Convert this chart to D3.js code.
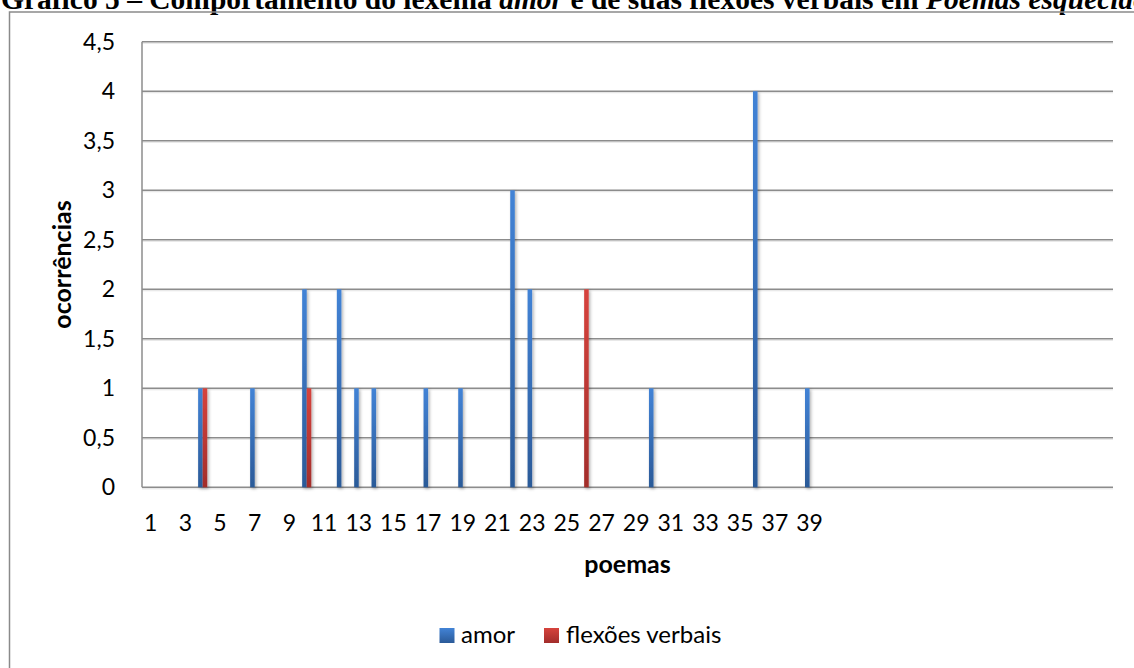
<!DOCTYPE html>
<html>
<head>
<meta charset="utf-8">
<script src="https://cdn.jsdelivr.net/npm/d3@7"></script>
<style>
  html, body { margin: 0; padding: 0; background: #fff; overflow: hidden; }
  svg { display: block; }
</style>
</head>
<body>
<svg id="chart" width="1134" height="668"></svg>
<script>
// Poem numbers on the category axis
const categories = [
  "1","2","3","4","5","6","7","8","9","10","11","12","13","14","15","16","17","18","19","20",
  "21","22","23","24","25","26","27","28","29","30","31","32","33","34","35","36","37","38","39","40",
  "41","42","43","44","45","46","47","48","49","50","51","52","53","54","55","56"
];
// Labels printed under the axis
const xTickLabels = ["1","3","5","7","9","11","13","15","17","19","21","23","25","27","29","31","33","35","37","39"];
const yTicks = [0, 0.5, 1, 1.5, 2, 2.5, 3, 3.5, 4, 4.5];

const seriesNames = ["amor", "flexões verbais"];
// Occurrences of "amor" per poem
const amorPoems  = ["4","7","10","12","13","14","17","19","22","23","30","36","39"];
const amorValues = [1, 1, 2, 2, 1, 1, 1, 1, 3, 2, 1, 4, 1];
// Occurrences of verbal inflections per poem
const flexPoems  = ["4","10","26"];
const flexValues = [1, 1, 2];

const svg = d3.select("#chart");

const plot = { left: 142, right: 1113, top: 41.7, bottom: 487.3 };

const colors = {
  "amor": { top: "#4283d6", bottom: "#2b5a98" },
  "flexões verbais": { top: "#d6433d", bottom: "#a22d2b" }
};

const defs = svg.append("defs");
seriesNames.forEach((s, i) => {
  const g = defs.append("linearGradient")
    .attr("id", "grad" + i).attr("x1", 0).attr("y1", 0).attr("x2", 0).attr("y2", 1);
  g.append("stop").attr("offset", "0%").attr("stop-color", colors[s].top);
  g.append("stop").attr("offset", "100%").attr("stop-color", colors[s].bottom);
});
const shadow = defs.append("filter").attr("id", "shadow")
  .attr("x", "-100%").attr("y", "-10%").attr("width", "300%").attr("height", "120%");
shadow.append("feDropShadow").attr("dx", 1.5).attr("dy", 1.5)
  .attr("stdDeviation", 1.6).attr("flood-color", "#000").attr("flood-opacity", 0.3);

// Title (partly above the visible area)
const title = svg.append("text")
  .attr("x", 1).attr("y", 9)
  .attr("font-family", "'Liberation Serif', 'Times New Roman', serif")
  .attr("font-weight", "bold").attr("font-size", 29.5).attr("fill", "#000");
title.append("tspan").text("Gráfico 5 – Comportamento do lexema ");
title.append("tspan").attr("font-style", "italic").text("amor");
title.append("tspan").text(" e de suas flexões verbais em ");
title.append("tspan").attr("font-style", "italic").text("Poemas esquecidos");

// Chart frame
svg.append("rect")
  .attr("x", 9.5).attr("y", 12).attr("width", 1200).attr("height", 700)
  .attr("fill", "none").attr("stroke", "#8a8a8a").attr("stroke-width", 1.5);

// Scales
const x = d3.scaleBand().domain(categories).range([plot.left, plot.right]).padding(0);
const y = d3.scaleLinear().domain([0, 4.5]).range([plot.bottom, plot.top]);
const barW = x.bandwidth() / 3.8;
const sub = d3.scaleBand().domain(seriesNames).range([0, 2 * barW]).padding(0);
const subOffset = (x.bandwidth() - 2 * barW) / 2;

const fontUI = "Lato, 'Open Sans', sans-serif";

// Gridlines
const grid = svg.append("g");
grid.selectAll("line.shade").data(yTicks).join("line")
  .attr("class", "shade")
  .attr("x1", plot.left).attr("x2", plot.right)
  .attr("y1", d => y(d) + 1.5).attr("y2", d => y(d) + 1.5)
  .attr("stroke", "#e2e2e2").attr("stroke-width", 1);
grid.selectAll("line.main").data(yTicks).join("line")
  .attr("class", "main")
  .attr("x1", plot.left).attr("x2", plot.right)
  .attr("y1", d => y(d)).attr("y2", d => y(d))
  .attr("stroke", "#8c8c8c").attr("stroke-width", 1.5);

// Vertical axis line
svg.append("line")
  .attr("x1", plot.left).attr("x2", plot.left)
  .attr("y1", plot.top).attr("y2", plot.bottom)
  .attr("stroke", "#8c8c8c").attr("stroke-width", 1.5);

// Y axis labels
const ptBR = d3.formatLocale({ decimal: ",", thousands: ".", grouping: [3], currency: ["R$ ", ""] });
const yAxis = d3.axisLeft(y).tickValues(yTicks).tickSize(0).tickPadding(27)
  .tickFormat(ptBR.format(".1~f"));
const gy = svg.append("g").attr("transform", `translate(${plot.left},0)`).call(yAxis);
gy.select(".domain").remove();
gy.selectAll("text").attr("font-family", fontUI).attr("font-size", 23).attr("fill", "#000");

// X axis labels
const xAxis = d3.axisBottom(x).tickValues(xTickLabels).tickSize(0).tickPadding(27);
const gx = svg.append("g").attr("transform", `translate(0,${plot.bottom})`).call(xAxis);
gx.select(".domain").remove();
gx.selectAll("text").attr("font-family", fontUI).attr("font-size", 23).attr("fill", "#000");

// Bars
const series = [
  { name: "amor", poems: amorPoems, values: amorValues },
  { name: "flexões verbais", poems: flexPoems, values: flexValues }
];
series.forEach((s, i) => {
  const data = s.poems.map((p, k) => ({ poem: p, value: s.values[k] }));
  svg.append("g").attr("filter", "url(#shadow)")
    .selectAll("rect").data(data).join("rect")
    .attr("x", d => x(d.poem) + subOffset + sub(s.name))
    .attr("width", sub.bandwidth())
    .attr("y", d => y(d.value))
    .attr("height", d => y(0) - y(d.value))
    .attr("fill", `url(#grad${i})`);
});

// Axis titles
svg.append("text")
  .attr("transform", `translate(71,${(plot.top + plot.bottom) / 2}) rotate(-90)`)
  .attr("text-anchor", "middle")
  .attr("font-family", fontUI).attr("font-weight", "bold").attr("font-size", 25)
  .text("ocorrências");
svg.append("text")
  .attr("x", (plot.left + plot.right) / 2).attr("y", 573)
  .attr("text-anchor", "middle")
  .attr("font-family", fontUI).attr("font-weight", "bold").attr("font-size", 25)
  .text("poemas");

// Legend
const legendPos = [{ sx: 439.5, tx: 461 }, { sx: 544, tx: 566 }];
const legend = svg.append("g");
seriesNames.forEach((s, i) => {
  legend.append("rect")
    .attr("x", legendPos[i].sx).attr("y", 628).attr("width", 15).attr("height", 15)
    .attr("fill", `url(#grad${i})`);
  legend.append("text")
    .attr("x", legendPos[i].tx).attr("y", 643)
    .attr("font-family", fontUI).attr("font-size", 24).attr("fill", "#000")
    .text(s);
});
</script>
</body>
</html>
